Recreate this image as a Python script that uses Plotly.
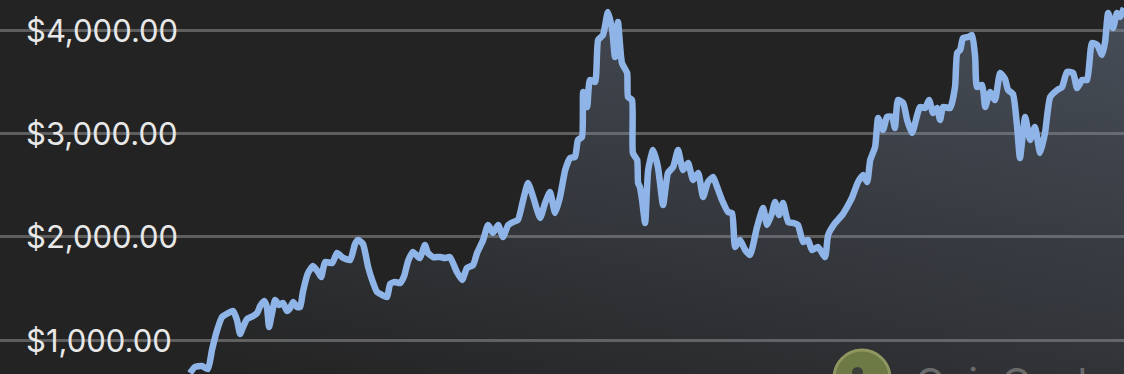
import plotly.graph_objects as go

# Days since 2020-12-27 and ETH price (USD)
days = [0, 1.6, 3.9, 5.9, 7.2, 8.9, 10.5, 12.5, 14.1, 15.4, 16.4, 17.4, 18.7, 20.7, 22.0, 23.0, 24.3, 25.2, 25.9, 26.9,
        27.9, 29.2, 30.5, 31.8, 32.8, 33.8, 35.1, 36.1, 37.0, 38.7, 40.3, 42.0, 43.0, 44.3, 46.6, 48.2, 50.2, 52.5, 54.1, 55.1,
        56.7, 58.4, 59.7, 61.3, 63.0, 64.6, 65.6, 67.2, 68.9, 70.2, 71.5, 73.1, 74.8, 75.4, 77.0, 78.0, 79.7, 82.0, 83.6, 85.2,
        87.5, 89.2, 90.8, 92.8, 94.1, 96.1, 97.7, 99.3, 101.0, 102.6, 104.3, 105.9, 107.5, 109.2, 110.8, 112.5, 114.8, 116.4, 118.0, 119.7,
        121.3, 123.0, 124.6, 126.2, 127.2, 128.5, 128.9, 130.2, 131.1, 132.8, 133.8, 135.4, 137.0, 138.4, 139.3, 140.3, 141.6, 143.3, 143.6, 144.9,
        145.2, 146.6, 146.9, 147.5, 148.2, 149.2, 150.2, 151.8, 153.4, 155.1, 156.7, 158.4, 160.0, 161.6, 163.3, 164.9, 166.6, 168.2, 169.8, 171.5,
        172.8, 174.4, 176.4, 177.7, 178.7, 180.3, 182.0, 183.6, 185.9, 187.9, 189.2, 190.8, 191.8, 193.1, 194.4, 196.1, 197.7, 199.3, 201.0, 202.6,
        203.9, 205.9, 208.2, 209.2, 211.5, 213.8, 215.4, 217.0, 219.0, 220.7, 222.0, 223.0, 224.6, 225.6, 227.2, 228.5, 230.2, 231.1, 232.1, 233.8,
        235.1, 236.7, 238.4, 239.3, 241.0, 242.3, 243.6, 244.9, 245.9, 246.9, 249.2, 250.8, 251.5, 252.5, 253.4, 255.1, 256.4, 257.4, 258.0, 259.7,
        260.7, 262.3, 263.9, 265.6, 267.2, 268.2, 269.8, 271.1, 272.1, 273.8, 275.4, 277.0, 278.7, 280.3, 282.0, 284.3, 285.9, 287.5, 289.5, 290.8,
        292.5, 294.1, 295.7, 297.4, 299.0, 300.0, 301.0, 302.6, 303.9, 304.9, 306.2]

prices = [680, 739, 748, 719, 903, 1097, 1223, 1261, 1281, 1194, 1058, 1126, 1203, 1232, 1261, 1329, 1377, 1319, 1126, 1261,
          1387, 1339, 1358, 1281, 1310, 1368, 1319, 1319, 1465, 1649, 1716, 1658, 1610, 1755, 1745, 1842, 1794, 1774, 1929, 1968,
          1929, 1707, 1581, 1465, 1436, 1416, 1542, 1561, 1552, 1619, 1765, 1852, 1803, 1794, 1920, 1842, 1803, 1803, 1794, 1803,
          1658, 1581, 1697, 1726, 1842, 1968, 2113, 2036, 2113, 1997, 2113, 2142, 2162, 2355, 2520, 2384, 2181, 2326, 2433, 2229,
          2384, 2646, 2762, 2771, 2936, 2965, 3401, 3255, 3517, 3497, 3904, 3952, 4175, 4001, 3739, 4078, 3681, 3585, 3352, 3323,
          2810, 2742, 2520, 2481, 2355, 2133, 2646, 2839, 2675, 2307, 2617, 2675, 2839, 2646, 2713, 2549, 2617, 2384, 2529, 2578,
          2481, 2355, 2239, 2229, 1900, 1968, 1871, 1823, 2094, 2278, 2113, 2229, 2336, 2210, 2326, 2142, 2133, 2113, 1949, 1968,
          1871, 1900, 1803, 2016, 2133, 2210, 2287, 2375, 2529, 2597, 2529, 2742, 2868, 3149, 3033, 3159, 3159, 3052, 3323, 3294,
          3130, 3004, 3178, 3255, 3246, 3323, 3197, 3246, 3130, 3255, 3246, 3449, 3778, 3807, 3923, 3933, 3952, 3739, 3449, 3468,
          3255, 3401, 3323, 3585, 3526, 3420, 3381, 3081, 2762, 3159, 2936, 3062, 2810, 3004, 3352, 3420, 3449, 3594, 3585, 3439,
          3517, 3517, 3875, 3856, 3759, 3885, 4165, 4020, 4165, 4127, 4214]

grid_values = [1000, 2000, 3000, 4000]
grid_labels = ["$1,000.00", "$2,000.00", "$3,000.00", "$4,000.00"]

X_RANGE = [-62.3, 306.2]
Y_RANGE = [671, 4291]

BG = "#232323"
LINE = "#8fb5e8"

fig = go.Figure()

# vertical gradient fill
fig.add_trace(go.Scatter(
    x=days, y=prices, mode="lines", line=dict(width=0, color=LINE, shape="spline", smoothing=0.5),
    fill="tozeroy",
    fillgradient=dict(type="vertical", start=Y_RANGE[0], stop=Y_RANGE[1],
                      colorscale=[[0, "rgba(120,135,160,0.0)"], [1, "rgba(120,135,160,0.32)"]]),
    hoverinfo="skip", showlegend=False))
# horizontal gradient fill
fig.add_trace(go.Scatter(
    x=days, y=prices, mode="lines", line=dict(width=0, color=LINE, shape="spline", smoothing=0.5),
    fill="tozeroy",
    fillgradient=dict(type="horizontal", start=days[0], stop=days[-1],
                      colorscale=[[0, "rgba(120,135,160,0.0)"], [1, "rgba(120,135,160,0.16)"]]),
    hoverinfo="skip", showlegend=False))
# price line
fig.add_trace(go.Scatter(
    x=days, y=prices, mode="lines",
    line=dict(width=6.5, color=LINE, shape="spline", smoothing=0.5),
    showlegend=False))

annotations = []
for v, lab in zip(grid_values, grid_labels):
    annotations.append(dict(
        x=24 / 1124, xref="paper", xanchor="left",
        y=v, yref="y", yanchor="middle",
        text=lab, showarrow=False,
        font=dict(family="Inter", size=31, color="#e8e8e8")))

annotations.append(dict(
    x=913 / 1124, xref="paper", xanchor="left",
    y=1 - 356 / 374, yref="paper", yanchor="top",
    text="CoinGecko", showarrow=False,
    font=dict(family="Inter", size=40, color="#6a6a6a")))

shapes = [
    dict(type="circle", xref="paper", yref="paper",
         x0=834 / 1124, x1=890 / 1124, y0=1 - 406 / 374, y1=1 - 350 / 374,
         fillcolor="#6e7a45", line=dict(color="#8f9660", width=3), layer="above"),
    dict(type="circle", xref="paper", yref="paper",
         x0=852 / 1124, x1=863 / 1124, y0=1 - 378 / 374, y1=1 - 367 / 374,
         fillcolor="#3a3f38", line=dict(width=0), layer="above"),
]

fig.update_layout(
    width=1124, height=374,
    margin=dict(l=0, r=0, t=0, b=0),
    paper_bgcolor=BG, plot_bgcolor=BG,
    xaxis=dict(range=X_RANGE, visible=False, showgrid=False, zeroline=False),
    yaxis=dict(range=Y_RANGE, tickvals=grid_values, showticklabels=False,
               showgrid=True, gridcolor="#5e5e5e", gridwidth=3, zeroline=False,
               showline=False, ticks=""),
    annotations=annotations,
    shapes=shapes,
    showlegend=False,
)

fig.write_html("out.html")
